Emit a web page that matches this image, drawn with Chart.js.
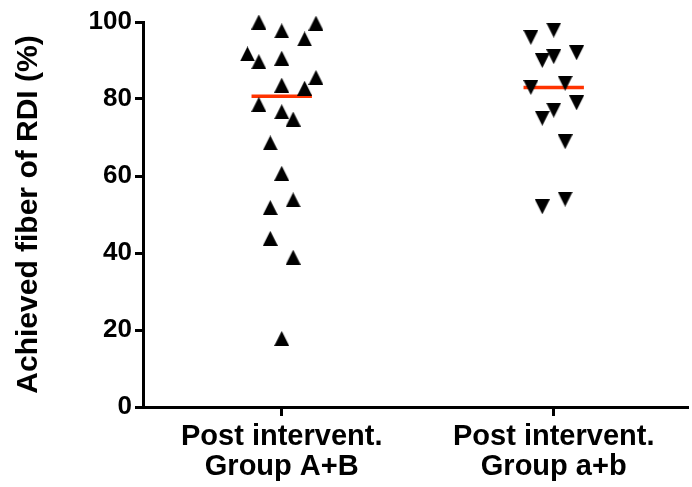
<!DOCTYPE html>
<html>
<head>
<meta charset="utf-8">
<script src="https://cdn.jsdelivr.net/npm/chart.js@4"></script>
<style>
  html, body { margin: 0; padding: 0; background: #fff; }
  #wrap { width: 692px; height: 487px; }
</style>
</head>
<body>
<div id="wrap"><canvas id="myChart"></canvas></div>
<script>
// categories and tick labels
var categories = [1, 2];
var categoryLabels = [
    ['Post intervent.', 'Group A+B'],
    ['Post intervent.', 'Group a+b']
];
var yTicks = [0, 20, 40, 60, 80, 100];

// Group A+B (up triangles)
var groupAB = [100, 97.7, 99.7, 95.6, 91.7, 89.7, 90.6, 85.6, 83.6, 82.8, 78.6, 76.7, 74.8, 68.6, 60.7, 53.8, 51.8, 43.8, 38.9, 17.8];
// column slot of each point inside the scatter (Prism-style spread)
var groupABSlot = [-2, 0, 3, 2, -3, -2, 0, 3, 0, 2, -2, 0, 1, -1, 0, 1, -1, -1, 1, 0];

// Group a+b (down triangles)
var groupab = [97.9, 96.0, 92.0, 91.0, 90.0, 83.0, 84.1, 79.0, 77.1, 75.0, 68.9, 54.0, 52.0];
var groupabSlot = [0, -2, 2, 0, -1, -2, 1, 2, 0, -1, 1, 1, -1];

var slotWidth = 0.042;
var medianHalf = 0.111;

function median(arr) {
    var s = arr.slice().sort(function (a, b) { return a - b; });
    var m = Math.floor(s.length / 2);
    return s.length % 2 ? s[m] : (s[m - 1] + s[m]) / 2;
}

function toPoints(cat, values, slots) {
    var pts = [];
    for (var i = 0; i < values.length; i++) {
        pts.push({ x: cat + slots[i] * slotWidth, y: values[i] });
    }
    return pts;
}

function triangleImage(down) {
    var c = document.createElement('canvas');
    c.width = 15;
    c.height = 15;
    var ctx = c.getContext('2d');
    ctx.fillStyle = '#000';
    ctx.beginPath();
    if (down) {
        ctx.moveTo(0, 0);
        ctx.lineTo(15, 0);
        ctx.lineTo(7.5, 15);
    } else {
        ctx.moveTo(0, 15);
        ctx.lineTo(15, 15);
        ctx.lineTo(7.5, 0);
    }
    ctx.closePath();
    ctx.fill();
    return c;
}

var medAB = median(groupAB);
var medab = median(groupab);

var font = "'Liberation Sans', Arial, Helvetica, sans-serif";

var ctx = document.getElementById('myChart');
var myChart = new Chart(ctx, {
    type: 'scatter',
    data: {
        datasets: [
            {
                label: 'Group A+B',
                data: toPoints(categories[0], groupAB, groupABSlot),
                pointStyle: triangleImage(false),
                clip: false
            },
            {
                label: 'Group a+b',
                data: toPoints(categories[1], groupab, groupabSlot),
                pointStyle: triangleImage(true),
                clip: false
            },
            {
                type: 'line',
                label: 'median A+B',
                data: [{ x: categories[0] - medianHalf, y: medAB }, { x: categories[0] + medianHalf, y: medAB }],
                borderColor: '#ff3300',
                borderWidth: 3.5,
                pointRadius: 0,
                clip: false
            },
            {
                type: 'line',
                label: 'median a+b',
                data: [{ x: categories[1] - medianHalf, y: medab }, { x: categories[1] + medianHalf, y: medab }],
                borderColor: '#ff3300',
                borderWidth: 3.5,
                pointRadius: 0,
                clip: false
            }
        ]
    },
    options: {
        responsive: true,
        maintainAspectRatio: false,
        animation: false,
        layout: {
            padding: { top: 22, right: 0, bottom: 0, left: 0 }
        },
        plugins: {
            legend: { display: false },
            tooltip: { enabled: false }
        },
        scales: {
            x: {
                type: 'linear',
                min: 0.49,
                max: 2.49,
                afterBuildTicks: function (scale) {
                    scale.ticks = categories.map(function (c) { return { value: c }; });
                },
                afterFit: function (scale) { scale.height = 80; },
                grid: {
                    drawOnChartArea: false,
                    drawTicks: true,
                    tickLength: 9,
                    lineWidth: 3,
                    color: '#000'
                },
                border: { display: true, width: 3, color: '#000' },
                ticks: {
                    color: '#000',
                    padding: 6,
                    maxRotation: 0,
                    autoSkip: false,
                    font: { family: font, size: 29, weight: 'bold', lineHeight: 1.03 },
                    callback: function (value) {
                        var i = categories.indexOf(value);
                        return i >= 0 ? categoryLabels[i] : '';
                    }
                }
            },
            y: {
                type: 'linear',
                min: 0,
                max: 100,
                afterBuildTicks: function (scale) {
                    scale.ticks = yTicks.map(function (v) { return { value: v }; });
                },
                afterFit: function (scale) { scale.width = 143; },
                grid: {
                    drawOnChartArea: false,
                    drawTicks: true,
                    tickLength: 8,
                    lineWidth: 3,
                    color: '#000'
                },
                border: { display: true, width: 3, color: '#000' },
                ticks: {
                    color: '#000',
                    padding: 3,
                    font: { family: font, size: 26, weight: 'bold' }
                },
                title: {
                    display: true,
                    text: 'Achieved fiber of RDI (%)',
                    color: '#000',
                    padding: { top: 11, bottom: 0 },
                    font: { family: font, size: 30, weight: 'bold' }
                }
            }
        }
    }
});
</script>
</body>
</html>
